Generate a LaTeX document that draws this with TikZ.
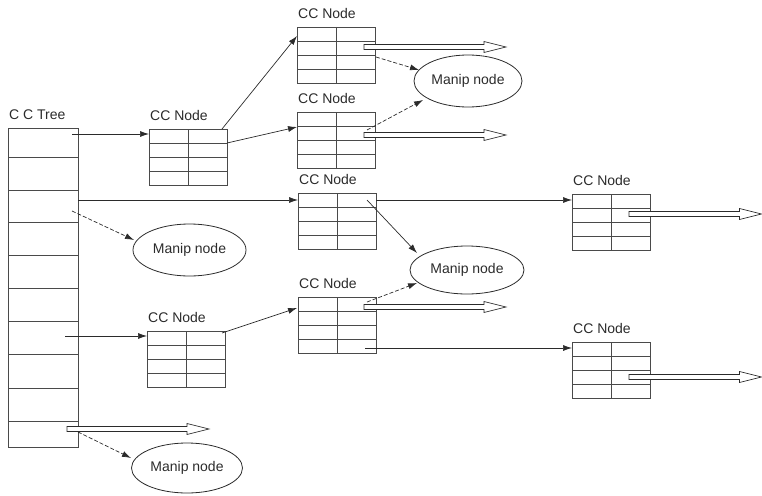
\documentclass[tikz,border=0pt]{standalone}
\usepackage{fontspec}
\setmainfont{Liberation Sans}
\usetikzlibrary{arrows.meta,calc,shapes.geometric}
\definecolor{ink}{HTML}{2B2B2B}
\definecolor{grid}{HTML}{4A4A4A}
\tikzset{
  txt/.style={font=\fontsize{14}{16}\selectfont, text=ink},
  cclabel/.style={txt, anchor=south west, inner sep=0pt, xshift=1pt, yshift=8pt},
  cctab/.style={draw=grid, line width=0.9pt, minimum width=78pt, minimum height=56pt,
                inner sep=0pt, outer sep=0pt, anchor=north west},
  gridline/.style={draw=grid, line width=0.9pt},
  manip/.style={draw=ink, ellipse, line width=0.8pt, inner sep=0pt, txt},
  link/.style={draw=ink, line width=0.7pt, -{Latex[length=9pt,width=6pt]}},
  dlink/.style={link, dash pattern=on 4pt off 2pt},
  hollow/.style={draw=ink, fill=white, line width=0.7pt, line join=miter},
}
\newcommand\cctable[3]{%
  \node[cctab, label={[cclabel]north west:CC Node}] (#1) at (#2,#3) {};
  \draw[gridline] (#1.north) -- (#1.south)
    ($(#1.north west)!0.25!(#1.south west)$) -- ($(#1.north east)!0.25!(#1.south east)$)
    ($(#1.north west)!0.5!(#1.south west)$) -- ($(#1.north east)!0.5!(#1.south east)$)
    ($(#1.north west)!0.75!(#1.south west)$) -- ($(#1.north east)!0.75!(#1.south east)$);
}
\newcommand\hollowarrow[2]{%
  \path[hollow] let \p1=(#1), \p2=(#2) in
    (\x1,\y1+2.5pt) -- (\x2-22pt,\y1+2.5pt) -- (\x2-22pt,\y1+5.5pt) -- (\x2,\y1)
    -- (\x2-22pt,\y1-5.5pt) -- (\x2-22pt,\y1-2.5pt) -- (\x1,\y1-2.5pt) -- cycle;
}
\begin{document}
\begin{tikzpicture}[x=1pt,y=-1pt]
\useasboundingbox (0,0) rectangle (762,495);

% CC Tree
\node[draw=grid, line width=0.9pt, minimum width=70pt, minimum height=319pt,
      inner sep=0pt, outer sep=0pt, anchor=north west,
      label={[cclabel]north west:C C Tree}] (T) at (8,128) {};
\foreach \yy in {157,190,222,255,288,321,354,388,421}
  \draw[gridline] (8,\yy) -- (78,\yy);

% CC node tables
\cctable{A}{149}{129}
\cctable{B}{297}{27}
\cctable{C}{297}{112}
\cctable{D}{298}{193}
\cctable{E}{147}{331}
\cctable{F}{298}{297}
\cctable{G}{572}{194}
\cctable{H}{572}{342}

% Manip nodes
\node[manip, minimum width=113pt, minimum height=52pt] (M1) at (189.5,250) {Manip node};
\node[manip, minimum width=108pt, minimum height=52pt] (M2) at (468,81) {Manip node};
\node[manip, minimum width=114pt, minimum height=48pt] (M3) at (467,270) {Manip node};
\node[manip, minimum width=111pt, minimum height=50pt] (M4) at (187,468) {Manip node};

% coordinates for connector ends
\coordinate (t1) at (72,134);
\coordinate (t2) at (78,200);
\coordinate (t3) at (72,211);
\coordinate (t4) at (65,336);
\coordinate (t5) at (78,432);
\coordinate (a1) at (222,129);
\coordinate (a2) at (227,143);
\coordinate (b1) at (376,57);
\coordinate (c1) at (367,130);
\coordinate (d1) at (376,200);
\coordinate (d2) at (367,200);
\coordinate (e1) at (222,333);
\coordinate (f1) at (367,302);
\coordinate (f2) at (365,348);
\coordinate (bB) at (297,36);
\coordinate (cC) at (297,127);
\coordinate (fF) at (297,308);
\coordinate (m1) at (134,240);
\coordinate (m2a) at (419,70);
\coordinate (m2b) at (423,100);
\coordinate (m3a) at (417,253);
\coordinate (m3b) at (417,283);
\coordinate (m4) at (131,458);

% solid links
\draw[link] (t1) -- (A.west |- t1);
\draw[link] (t2) -- (D.west |- t2);
\draw[link] (t4) -- (E.west |- t4);
\draw[link] (a1) -- (bB);
\draw[link] (a2) -- (cC);
\draw[link] (e1) -- (fF);
\draw[link] (d1) -- (G.west |- d1);
\draw[link] (f2) -- (H.west |- f2);
\draw[link] (d2) -- (m3a);

% dashed links
\draw[dlink] (t3) -- (m1);
\draw[dlink] (t5) -- (m4);
\draw[dlink] (b1) -- (m2a);
\draw[dlink] (c1) -- (m2b);
\draw[dlink] (f1) -- (m3b);

% hollow arrows
\coordinate (hb0) at (364,47);  \coordinate (hb1) at (506,47);
\coordinate (hc0) at (364,135); \coordinate (hc1) at (506,135);
\coordinate (hf0) at (364,307); \coordinate (hf1) at (506,307);
\coordinate (hg0) at (629,214); \coordinate (hg1) at (761.5,214);
\coordinate (hh0) at (629,377); \coordinate (hh1) at (761.5,377);
\coordinate (ht0) at (67,429);  \coordinate (ht1) at (209,429);
\hollowarrow{hb0}{hb1}
\hollowarrow{hc0}{hc1}
\hollowarrow{hf0}{hf1}
\hollowarrow{hg0}{hg1}
\hollowarrow{hh0}{hh1}
\hollowarrow{ht0}{ht1}
\end{tikzpicture}
\end{document}
